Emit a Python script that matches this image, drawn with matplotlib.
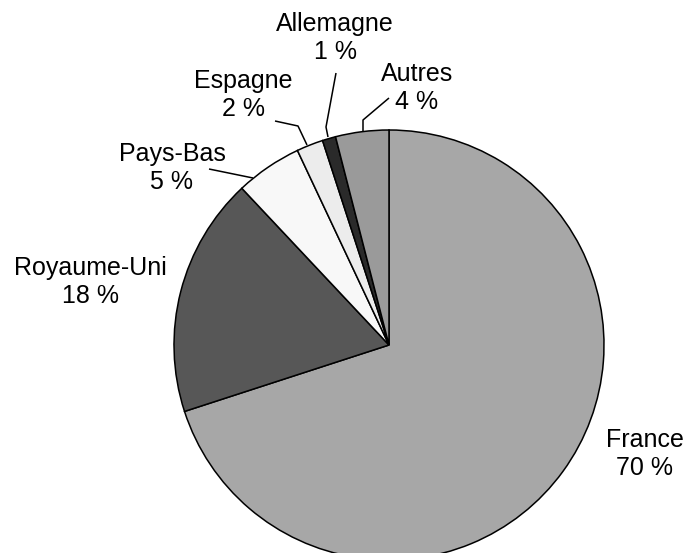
import matplotlib.pyplot as plt

plt.rcParams['font.family'] = ['Liberation Sans', 'DejaVu Sans']

pays = ['France', 'Royaume-Uni', 'Pays-Bas', 'Espagne', 'Allemagne', 'Autres']
parts = [70, 18, 5, 2, 1, 4]
couleurs = ['#a7a7a7', '#575757', '#f8f8f8', '#ececec', '#2a2a2a', '#9a9a9a']

W, H = 687, 553


def px(x, y):
    # pixel coords (y from top) -> data coords
    return x, H - y


fig = plt.figure(figsize=(W / 100, H / 100), dpi=100)
ax = fig.add_axes([0, 0, 1, 1])
ax.set_xlim(0, W)
ax.set_ylim(0, H)
ax.set_aspect('equal')
ax.axis('off')

ax.pie(parts, colors=couleurs, startangle=90, counterclock=False,
       center=px(389, 345), radius=215,
       wedgeprops=dict(edgecolor='black', linewidth=1.1))
ax.set_xlim(0, W)
ax.set_ylim(0, H)

# label positions (pixel centre of the two-line text)
pos = {
    'France': (645, 454),
    'Royaume-Uni': (90, 282),
    'Pays-Bas': (172, 168),
    'Espagne': (243, 95),
    'Allemagne': (335, 38),
    'Autres': (417, 88),
}
for nom, p in zip(pays, parts):
    x, y = px(*pos[nom])
    ax.text(x, y, f'{nom}\n{p} %', ha='center', va='center',
            fontsize=18, linespacing=1.2)

# leader lines
guides = [
    [(209, 169), (253, 178)],
    [(275, 121), (298, 126), (307, 145)],
    [(336, 73), (326, 127), (328, 137)],
    [(389, 98), (363, 120), (363, 131)],
]
for g in guides:
    xs = [px(*q)[0] for q in g]
    ys = [px(*q)[1] for q in g]
    ax.plot(xs, ys, color='black', linewidth=1.1, solid_capstyle='butt')

fig.savefig('out.png', dpi=100)
